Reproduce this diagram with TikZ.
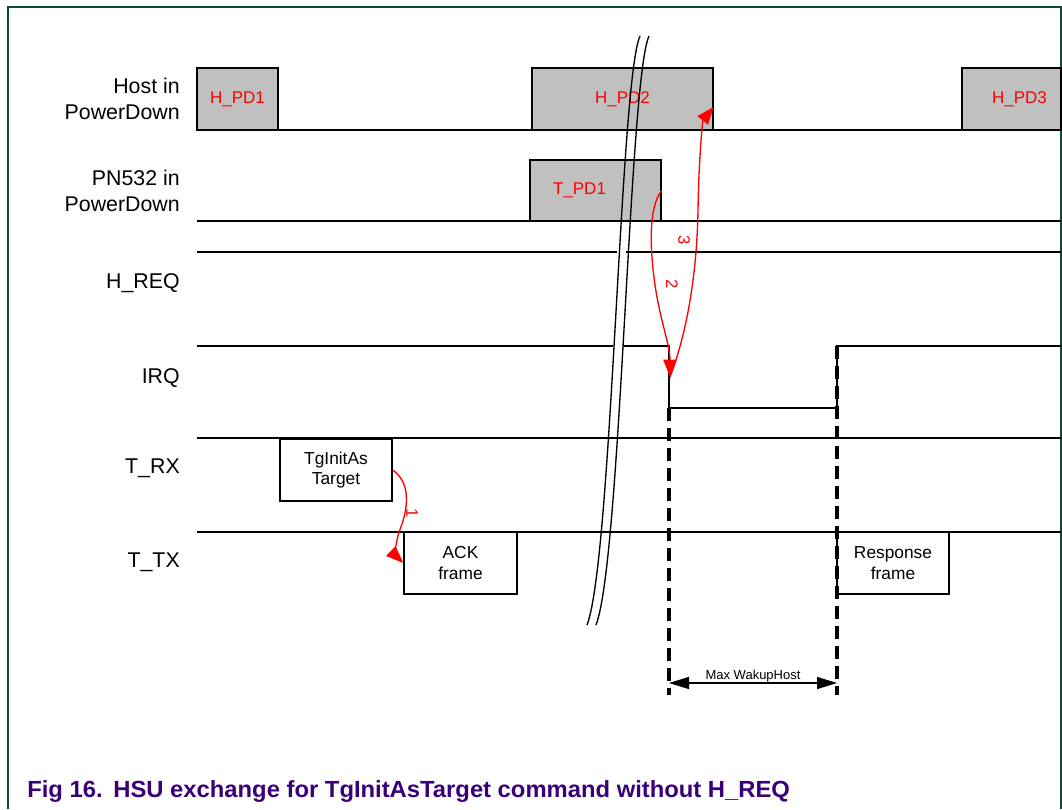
\documentclass[tikz,border=0pt]{standalone}
\usepackage{fontspec}
\setmainfont{Liberation Sans}
\usetikzlibrary{arrows.meta,fit}
\definecolor{pdgray}{RGB}{192,192,192}
\definecolor{framec}{RGB}{16,72,52}
\definecolor{capc}{RGB}{58,0,120}
\definecolor{sigred}{RGB}{255,0,0}
\begin{document}
\begin{tikzpicture}[x=0.75pt,y=-0.75pt,
  sig/.style={line width=1pt, black},
  pdbox/.style={draw, fill=pdgray, line width=1pt, inner sep=0pt},
  frbox/.style={draw, fill=white, line width=1pt, inner sep=0pt},
  pdtext/.style={text=sigred, font=\fontsize{12.75}{15}\selectfont, inner sep=0pt},
  frtext/.style={align=center, inner sep=0pt, font=\fontsize{13}{15.5}\selectfont},
  lbl/.style={anchor=east, align=right, inner sep=0pt, font=\fontsize{16}{19.5}\selectfont},
  redarr/.style={sigred, line width=1pt, -{Triangle[length=13pt,width=10pt]}},
  dashv/.style={line width=2.4pt, dash pattern=on 10pt off 5pt},
  brk/.style={line width=1pt},
  num/.style={text=sigred, rotate=-90, inner sep=0pt, font=\fontsize{12.5}{14}\selectfont},
  dimarr/.style={line width=1pt, {Triangle[length=15pt,width=9pt]}-{Triangle[length=15pt,width=9pt]}}
]
\useasboundingbox (0,0) rectangle (1062,809);
% frame
\draw[framec, line width=1.2pt] (8,809) -- (8,7) -- (1061,7) -- (1061,809);

% signal labels
\node[lbl] (lhost) at (180,99) {Host in\\PowerDown};
\node[lbl] (lpn) at (180,191) {PN532 in\\PowerDown};
\node[lbl] (lhreq) at (180,283) {H\_REQ};
\node[lbl] (lirq) at (180,378) {IRQ};
\node[lbl] (ltrx) at (180,468) {T\_RX};
\node[lbl] (lttx) at (180,562) {T\_TX};

% signal lines
\draw[sig] (197,130) -- (1061,130);
\draw[sig] (197,221) -- (1061,221);
\draw[sig] (197,252) -- (617,252);
\draw[sig] (626,252) -- (1061,252);
\draw[sig] (197,346) -- (613,346);
\draw[sig] (623,346) -- (669,346) -- (669,408) -- (837,408) -- (837,346) -- (1061,346);
\draw[sig] (197,438) -- (1061,438);
\draw[sig] (197,532) -- (1061,532);

% power-down boxes
\node[pdbox, fit={(197,68) (278,130)}, label={[pdtext]center:H\_PD1}] (hpd1) {};
\node[pdbox, fit={(532,68) (713,130)}, label={[pdtext]center:H\_PD2}] (hpd2) {};
\node[pdbox, fit={(962,68) (1061,130)}, label={[pdtext, xshift=6pt]center:H\_PD3}] (hpd3) {};
\node[pdbox, fit={(530,160) (661,221)}, label={[pdtext, xshift=-12pt]center:T\_PD1}] (tpd1) {};

% frame boxes
\node[frbox, fit={(280,439) (392,501)}, label={[frtext]center:TgInitAs\\Target}] (tgt) {};
\node[frbox, fit={(404,532) (517,594)}, label={[frtext]center:ACK\\frame}] (ack) {};
\node[frbox, fit={(837,532) (949,594)}, label={[frtext]center:Response\\frame}] (resp) {};

% break marks
\draw[brk] (640,36) .. controls (620,80) and (612,560) .. (587,625);
\draw[brk] (649,36) .. controls (629,80) and (621,560) .. (596,625);

% dashed timing lines
\coordinate (d1top) at (669,408);
\coordinate (d1bot) at (669,695);
\coordinate (d2top) at (837,346);
\coordinate (d2bot) at (837,695);
\draw[dashv] (d1top) -- (d1bot);
\draw[dashv] (d2top) -- (d2bot);

% Max WakupHost
\coordinate (w1) at (669,683);
\coordinate (w2) at (837,683);
\draw[dimarr] (w1) -- (w2);
\node[anchor=base, inner sep=0pt, font=\fontsize{9.75}{11}\selectfont] (wlbl) at (753,679) {Max WakupHost};

% red arrows
\coordinate (irqF) at (670,377);
\draw[redarr] (tgt.east) .. controls (414,485) and (406,515) .. (399,532) .. controls (395,545) and (396,556) .. (ack.west);
\node[num] (n1) at (412,513) {1};
\draw[redarr] (tpd1.east) .. controls (648,208) and (650,250) .. (655,285) .. controls (660,320) and (670,345) .. (irqF);
\node[num] (n2) at (672,284) {2};
\draw[redarr] (irqF) .. controls (688,330) and (697,270) .. (698,210) .. controls (699,150) and (703,120) .. ([yshift=-6pt]hpd2.east);
\node[num] (n3) at (684,240) {3};

% caption
\node[anchor=base west, inner sep=0pt, text=capc, xscale=1.02, font=\bfseries\fontsize{17.5}{20}\selectfont] (cap) at (27,797) {Fig 16.\hspace{0.45em}HSU exchange for TgInitAsTarget command without H\_REQ};
\end{tikzpicture}
\end{document}
